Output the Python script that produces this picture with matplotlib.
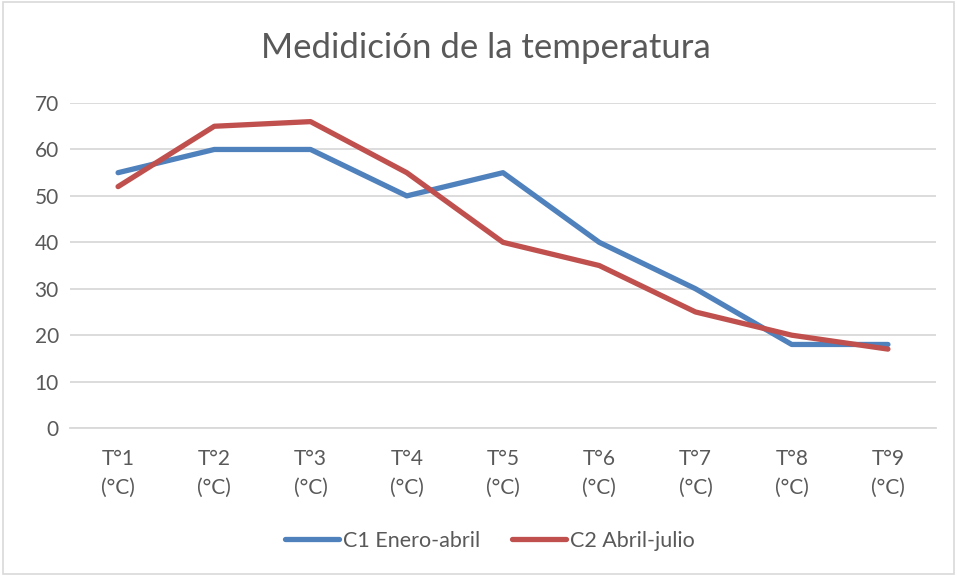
import matplotlib.pyplot as plt
from matplotlib.patches import Rectangle

plt.rcParams['font.family'] = ['Lato', 'DejaVu Sans']

# Data
categories = ['T°1\n(°C)', 'T°2\n(°C)', 'T°3\n(°C)', 'T°4\n(°C)', 'T°5\n(°C)',
              'T°6\n(°C)', 'T°7\n(°C)', 'T°8\n(°C)', 'T°9\n(°C)']
c1_values = [55, 60, 60, 50, 55, 40, 30, 18, 18]
c2_values = [52, 65, 66, 55, 40, 35, 25, 20, 17]
y_ticks = [0, 10, 20, 30, 40, 50, 60, 70]

text_color = '#595959'
grid_color = '#D9D9D9'

fig = plt.figure(figsize=(9.57, 5.76), dpi=100)
ax = fig.add_axes([0.0731, 0.2569, 0.905, 0.5642])

x = range(len(categories))
ax.plot(x, c1_values, color='#4F81BD', lw=3.8, solid_capstyle='round',
        solid_joinstyle='round', label='C1 Enero-abril')
ax.plot(x, c2_values, color='#C0504D', lw=3.8, solid_capstyle='round',
        solid_joinstyle='round', label='C2 Abril-julio')

ax.set_xlim(-0.5, len(categories) - 0.5)
ax.set_ylim(0, 70)
ax.set_yticks(y_ticks)
ax.set_xticks(list(x))
ax.set_xticklabels(categories, linespacing=1.55)
ax.grid(axis='y', color=grid_color, lw=1.3)
ax.set_axisbelow(True)
for side in ['top', 'right', 'left']:
    ax.spines[side].set_visible(False)
ax.spines['bottom'].set_color(grid_color)
ax.spines['bottom'].set_linewidth(1.3)
ax.tick_params(axis='both', length=0, labelsize=15, colors=text_color)
ax.tick_params(axis='y', pad=8)
ax.tick_params(axis='x', pad=15)

fig.suptitle('Medidición de la temperatura', x=0.508, y=0.945,
             fontsize=25, color=text_color)

fig.legend(loc='center', bbox_to_anchor=(0.512, 0.061), ncol=2, frameon=False,
           fontsize=15.5, labelcolor=text_color, handlelength=2.5,
           handletextpad=0.2, columnspacing=1.5)

# outer chart border
fig.add_artist(Rectangle((0.003, 0.003), 0.994, 0.994, transform=fig.transFigure,
                         fill=False, edgecolor='#D9D9D9', lw=1.2))

fig.savefig('out.png', dpi=100)
